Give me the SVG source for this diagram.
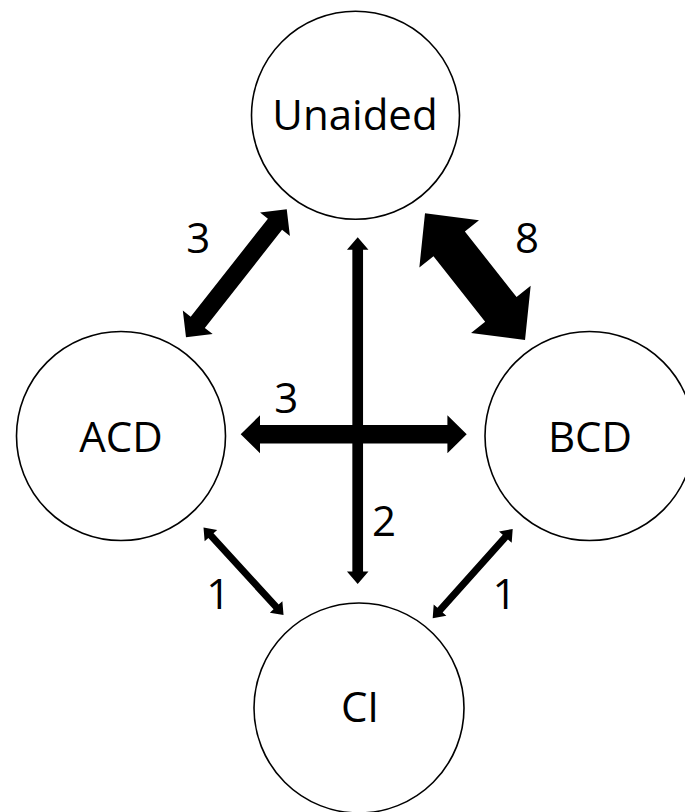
<svg xmlns="http://www.w3.org/2000/svg" width="685" height="812" viewBox="0 0 685 812">
<style>
.node circle { fill: #ffffff; stroke: #000000; stroke-width: 1.6; }
.node text { font-family: "Open Sans", "Liberation Sans", sans-serif; font-size: 42px; fill: #000000; text-anchor: middle; }
.lbl { font-family: "Open Sans", "Liberation Sans", sans-serif; font-size: 42px; fill: #000000; text-anchor: middle; }
.arrow { fill: #000000; stroke: none; }
</style>
<rect width="685" height="812" fill="#ffffff"/>
<g id="node-unaided" class="node">
  <circle cx="355.5" cy="115.3" r="104"/>
  <text x="355" y="130">Unaided</text>
</g>
<g id="node-acd" class="node">
  <circle cx="121" cy="436" r="104.5"/>
  <text x="121" y="452">ACD</text>
</g>
<g id="node-bcd" class="node">
  <circle cx="589.5" cy="436" r="104.5"/>
  <text x="590" y="452">BCD</text>
</g>
<g id="node-ci" class="node">
  <circle cx="359" cy="708" r="105"/>
  <text x="360" y="722">CI</text>
</g>
<g id="connectors">
  <polygon class="arrow" transform="translate(186,337.3) rotate(-51.8)" points="0,0 19,-19 19,-9 143.9,-9 143.9,-19 162.9,0 143.9,19 143.9,9 19,9 19,19"/>
  <polygon class="arrow" transform="translate(425,213.3) rotate(51.7)" points="0,0 39,-38 39,-20 122.4,-20 122.4,-38 161.4,0 122.4,38 122.4,20 39,20 39,38"/>
  <polygon class="arrow" points="240.7,434.2 260,415.2 260,425 447.4,425 447.4,415.2 466.7,434.2 447.4,453.2 447.4,443.4 260,443.4 260,453.2"/>
  <polygon class="arrow" points="357.7,237.3 368.45,249.8 363.05,249.8 363.05,571.5 368.45,571.5 357.7,584 346.95,571.5 352.35,571.5 352.35,249.8 346.95,249.8"/>
  <polygon class="arrow" transform="translate(203.5,527.5) rotate(47.56)" points="0,0 11,-8.5 11,-3.5 107.6,-3.5 107.6,-8.5 118.6,0 107.6,8.5 107.6,3.5 11,3.5 11,8.5"/>
  <polygon class="arrow" transform="translate(512.7,529) rotate(131.86)" points="0,0 11,-8.5 11,-3.5 108.9,-3.5 108.9,-8.5 119.9,0 108.9,8.5 108.9,3.5 11,3.5 11,8.5"/>
</g>
<g id="labels">
  <text class="lbl" x="198.3" y="253.3">3</text>
  <text class="lbl" x="527" y="252.7">8</text>
  <text class="lbl" x="286.3" y="412.7">3</text>
  <text class="lbl" x="384" y="536">2</text>
  <text class="lbl" x="218.3" y="609.3">1</text>
  <text class="lbl" x="504.5" y="609.3">1</text>
</g>
</svg>
